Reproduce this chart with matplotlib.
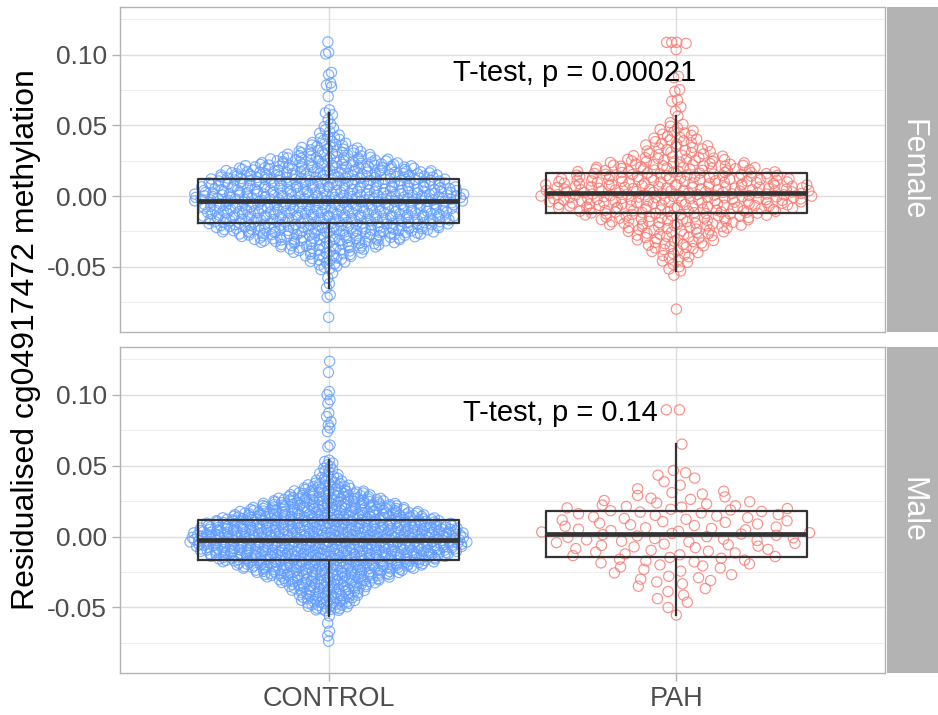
import numpy as np
import matplotlib
matplotlib.use("Agg")
import matplotlib.pyplot as plt

plt.rcParams['font.family'] = ['Liberation Sans', 'DejaVu Sans']

# ---------------- data ----------------
groups = ["CONTROL", "PAH"]
facets = ["Female", "Male"]
group_colors = ["#619CFF", "#F8766D"]
ttest_labels = ["T-test, p = 0.00021", "T-test, p = 0.14"]

bin_width = 0.005
bin_centers = [-0.050, -0.045, -0.040, -0.035, -0.030, -0.025, -0.020, -0.015,
               -0.010, -0.005, 0.000, 0.005, 0.010, 0.015, 0.020, 0.025,
               0.030, 0.035, 0.040, 0.045, 0.050]

female_control_counts = [6, 10, 16, 26, 40, 52, 58, 60, 58, 62, 68, 60, 58, 54, 46, 30, 20, 12, 7, 4, 0]
female_control_tail = [0.1090, 0.1016, 0.1005, 0.0874, 0.0858, 0.0799, 0.0785, 0.0773,
                       0.0704, 0.0610, 0.0589, 0.0574, 0.0540, 0.0510, 0.0491, 0.0480,
                       -0.0546, -0.0580, -0.0620, -0.0650, -0.0700, -0.0716, -0.0858]

female_pah_counts = [3, 5, 7, 10, 12, 15, 20, 25, 33, 38, 41, 40, 37, 32, 26, 18, 12, 9, 8, 6, 4]
female_pah_tail = [0.1087, 0.1087, 0.1087, 0.1080, 0.1035, 0.0846, 0.0837, 0.0752,
                   0.0740, 0.0680, 0.0670, 0.0630, 0.0600, 0.0566,
                   -0.0530, -0.0560, -0.0800]

male_control_counts = [16, 20, 24, 30, 40, 54, 70, 84, 94, 100, 100, 96, 88, 72, 58, 44, 30, 18, 10, 6, 4]
male_control_tail = [0.1236, 0.1158, 0.1023, 0.1000, 0.0965, 0.0940, 0.0872, 0.0846,
                     0.0810, 0.0787, 0.0766, 0.0740, 0.0645, 0.0633, 0.0539, 0.0530,
                     -0.0560, -0.0610, -0.0667, -0.0700, -0.0738]

male_pah_counts = [1, 2, 2, 3, 5, 4, 7, 8, 8, 10, 11, 10, 9, 9, 10, 6, 5, 2, 2, 3, 0]
male_pah_tail = [0.0652, 0.0894, 0.0894, -0.0553]

y_ticks = [-0.05, 0.00, 0.05, 0.10]
y_ticklabels = ["-0.05", "0.00", "0.05", "0.10"]
y_limits = (-0.0962, 0.1337)
y_title = "Residualised cg04917472 methylation"


def expand(counts, tail):
    vals = []
    for c, n in zip(bin_centers, counts):
        for k in range(n):
            vals.append(c - bin_width / 2 + (k + 0.5) / n * bin_width)
    vals.extend(tail)
    return np.array(vals)


data = {
    ("Female", "CONTROL"): expand(female_control_counts, female_control_tail),
    ("Female", "PAH"): expand(female_pah_counts, female_pah_tail),
    ("Male", "CONTROL"): expand(male_control_counts, male_control_tail),
    ("Male", "PAH"): expand(male_pah_counts, male_pah_tail),
}


# ---------------- quasirandom (vipor-like) offsets ----------------
def van_der_corput(n, base=2):
    out = np.empty(n)
    for i in range(1, n + 1):
        q, denom, x = i, 1.0, 0.0
        while q > 0:
            denom *= base
            q, r = divmod(q, base)
            x += r / denom
        out[i - 1] = x
    return out


def quasirandom_offsets(y, width=0.4, adjust=0.5):
    y = np.asarray(y)
    n = len(y)
    sd = np.std(y, ddof=1)
    iqr = np.subtract(*np.percentile(y, [75, 25]))
    lo = min(sd, iqr / 1.34)
    bw = 0.9 * lo * n ** (-0.2) * adjust
    grid = np.linspace(y.min() - 3 * bw, y.max() + 3 * bw, 1024)
    dens = np.exp(-0.5 * ((grid[:, None] - y[None, :]) / bw) ** 2).sum(axis=1)
    dens = dens / dens.max()
    dy = np.interp(y, grid, dens)
    ranks = np.argsort(np.argsort(y, kind="stable"), kind="stable")
    vdc = van_der_corput(n)
    return dy * (vdc[ranks] - 0.5) * width * 2


# ---------------- figure ----------------
W, H = 938, 715
fig = plt.figure(figsize=(W / 100, H / 100), dpi=100)


def px_axes(x0, y0, x1, y1):
    return fig.add_axes([x0 / W, 1 - y1 / H, (x1 - x0) / W, (y1 - y0) / H])


panel_boxes = [(120, 7, 885, 332), (120, 347, 885, 673)]
strip_boxes = [(887, 7, 938, 332), (887, 347, 938, 673)]
label_x = [1.358, 1.386]

for fi, facet in enumerate(facets):
    ax = px_axes(*panel_boxes[fi])
    ax.set_facecolor("white")
    ax.set_xlim(0.4, 2.6)
    ax.set_ylim(*y_limits)
    # grid
    for v in [-0.075, -0.025, 0.025, 0.075, 0.125]:
        ax.axhline(v, color="#EBEBEB", lw=0.6, zorder=0)
    for v in y_ticks:
        ax.axhline(v, color="#DEDEDE", lw=1.0, zorder=0)
    for xi in range(len(groups)):
        ax.axvline(xi + 1, color="#DEDEDE", lw=1.0, zorder=0)

    box_data = []
    for gi, g in enumerate(groups):
        y = data[(facet, g)]
        xo = quasirandom_offsets(y)
        ax.scatter(gi + 1 + xo, y, s=54, facecolors="none",
                   edgecolors=group_colors[gi], linewidths=0.85, alpha=0.8, zorder=2)
        box_data.append(y)

    ax.boxplot(box_data, positions=[1, 2], widths=0.75, showfliers=False,
               showcaps=False, whis=1.5, patch_artist=False, zorder=3,
               boxprops=dict(color="#333333", lw=1.6),
               whiskerprops=dict(color="#333333", lw=1.6),
               medianprops=dict(color="#333333", lw=3.4, solid_capstyle="butt"))

    ax.text(label_x[fi], 0.0872, ttest_labels[fi], fontsize=21, color="black",
            ha="left", va="center", zorder=4)

    for sp in ax.spines.values():
        sp.set_color("#B3B3B3")
        sp.set_linewidth(1.0)
    ax.set_yticks(y_ticks)
    ax.set_yticklabels(y_ticklabels)
    ax.tick_params(axis="y", colors="#B3B3B3", labelcolor="#4D4D4D",
                   labelsize=19, length=5.5, width=1.0, pad=4)
    ax.set_xticks([1, 2])
    if fi == len(facets) - 1:
        ax.set_xticklabels(groups)
        ax.tick_params(axis="x", colors="#B3B3B3", labelcolor="#4D4D4D",
                       labelsize=19.5, length=5.5, width=1.0, pad=4)
    else:
        ax.tick_params(axis="x", length=0, labelbottom=False)

    sax = px_axes(*strip_boxes[fi])
    sax.set_facecolor("#B3B3B3")
    sax.set_xticks([])
    sax.set_yticks([])
    for sp in sax.spines.values():
        sp.set_visible(False)
    sax.text(0.5, 0.5, facet, rotation=-90, color="white", fontsize=22,
             ha="center", va="center", transform=sax.transAxes)

fig.text(26 / W, 1 - 340 / H, y_title, rotation=90, fontsize=23,
         ha="center", va="center", color="black")

fig.savefig("out.png", dpi=100)
